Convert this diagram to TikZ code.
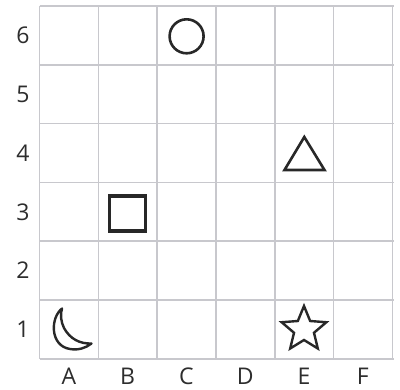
\documentclass[tikz,border=0pt]{standalone}
\usepackage{fontspec}
\setmainfont{Open Sans}
\begin{document}
\begin{tikzpicture}[x=1pt,y=-1pt,
  gridline/.style={draw=gridgray,line width=1.6pt},
  lbl/.style={font=\fontsize{23}{23}\selectfont,text=labelgray,inner sep=0pt},
  shp/.style={draw=shapegray,line width=2.6pt,line join=miter}]
\definecolor{gridgray}{RGB}{200,200,205}
\definecolor{labelgray}{RGB}{45,45,45}
\definecolor{shapegray}{RGB}{40,40,40}
\useasboundingbox (0,0) rectangle (400,390);
\fill[white] (0,0) rectangle (400,390);
% grid
\foreach \i in {0,...,6}{
  \draw[gridline] (39.5+58.8*\i,6) -- (39.5+58.8*\i,358.8);
  \draw[gridline] (39.5,6+58.8*\i) -- (393.5,6+58.8*\i);
}
% row labels
\foreach \n [count=\k from 0] in {6,5,4,3,2,1}{
  \node[lbl] (r\n) at (23,35.4+58.8*\k) {\n};
}
% column labels
\foreach \c [count=\k from 0] in {A,B,C,D,E,F}{
  \node[lbl] (c\c) at (68.9+58.8*\k,376.5) {\c};
}
% circle C6
\draw[shp] (186.6,36.3) circle[radius=17];
% triangle E4
\draw[shp] (304.3,137) -- (324.5,170) -- (284.5,170) -- cycle;
% square B3
\draw[shp,line width=3.4pt] (109.3,196) rectangle (145.5,231);
% star E1
\draw[shp,line width=2.4pt] (304,306)
  \foreach \a in {1,...,9}{ -- ({304+ (mod(\a,2)==0 ? 23.5 : 10.5)*cos(90+36*\a)}, {329.5 - (mod(\a,2)==0 ? 23.5 : 10.5)*sin(90+36*\a)}) } -- cycle;
% moon A1
\draw[shp,line width=2.4pt,line join=round] (62,308.5)
  .. controls (50,318) and (50,346) .. (70,349)
  .. controls (78,350.5) and (86,348) .. (91.5,343.5)
  .. controls (80,344) and (70,339) .. (64,328)
  .. controls (61,322) and (60,314) .. (62,308.5) -- cycle;
\end{tikzpicture}
\end{document}
